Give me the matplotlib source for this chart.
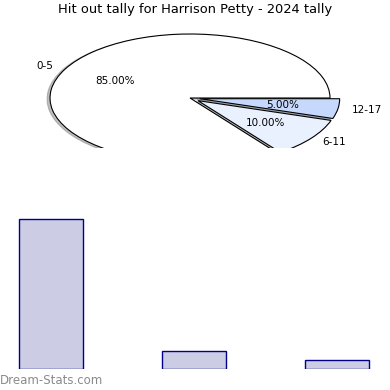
import matplotlib
matplotlib.use("Agg")
import matplotlib.pyplot as plt
import numpy as np

# hit out ranges and how many games fell in each
ranges = ["0-5", "6-11", "12-17"]
games = [17, 2, 1]
pie_colors = ["#ffffff", "#eaf1fe", "#c6d9fc"]
explode = [0, 0.07, 0.07]

fig = plt.figure(figsize=(3.9, 3.9), dpi=100)

# pie on top, squashed into an ellipse and cut off at the bottom
ax1 = fig.add_axes([0, (390 - 148) / 390, 1, 128 / 390])
ax1.pie(games, labels=ranges, colors=pie_colors, explode=explode,
        autopct="%.2f%%", pctdistance=0.6, labeldistance=1.1,
        startangle=0, shadow={"ox": -0.015, "oy": -0.012, "shade": 0.5},
        wedgeprops=dict(edgecolor="black", linewidth=0.8),
        textprops=dict(fontsize=7.5))
for p in ax1.patches:
    p.set_clip_on(True)
ax1.set_aspect("auto")
ax1.set_xlim(-190 / 140, 200 / 140)
ax1.set_ylim(-50 / 64, 78 / 64)
ax1.axis("off")

fig.text(0.5, 1 - 10 / 390, "Hit out tally for Harrison Petty - 2024 tally",
         ha="center", va="center", fontsize=9.4)

# bar chart below, no axes drawn
ax2 = fig.add_axes([0, 21 / 390, 1, 169 / 390])
x = np.arange(len(games))
ax2.bar(x, games, width=0.45, color="#ccccE5", edgecolor="#000088", linewidth=1)
ax2.set_xlim(-51 / 143, 339 / 143)
ax2.set_ylim(0, 169 / 8.82)
ax2.axis("off")

fig.text(0.0, 10 / 390, "Dream-Stats.com", ha="left", va="center",
         fontsize=8.5, color="#8a8a8a")

fig.savefig("out.png", dpi=100)
